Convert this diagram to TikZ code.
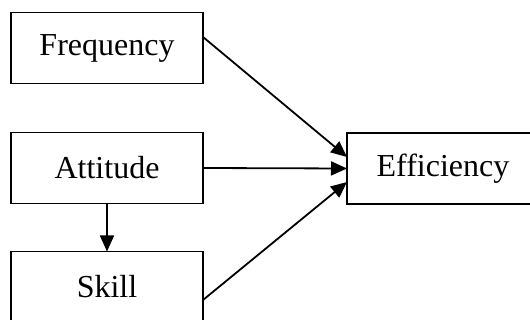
\documentclass[tikz,border=0pt]{standalone}
\usepackage{fontspec}
\setmainfont{Liberation Serif}
\usetikzlibrary{arrows.meta}
\begin{document}
\begin{tikzpicture}[x=1pt,y=-1pt,
  boxnode/.style={draw,line width=1.8pt,minimum width=192pt,minimum height=71pt,inner sep=0pt,outer sep=0pt,font=\fontsize{32}{38}\selectfont},
  conn/.style={line width=1.8pt,-{Triangle[length=16pt,width=14pt]}}]
\useasboundingbox (0,0) rectangle (530,320);
\clip (0,0) rectangle (530,320);
\node[boxnode] (freq) at (107,48) {Frequency};
\node[boxnode] (att) at (107,168) {Attitude};
\node[boxnode] (skill) at (107,287) {Skill};
\node[boxnode] (eff) at (443,168.5) {Efficiency};
\draw[conn] ([yshift=11pt]freq.east) -- ([yshift=11.5pt]eff.west);
\draw[conn] (att.east) -- (eff.west);
\draw[conn] ([yshift=-13pt]skill.east) -- ([yshift=-13.5pt]eff.west);
\draw[conn] (att.south) -- (skill.north);
\end{tikzpicture}
\end{document}
